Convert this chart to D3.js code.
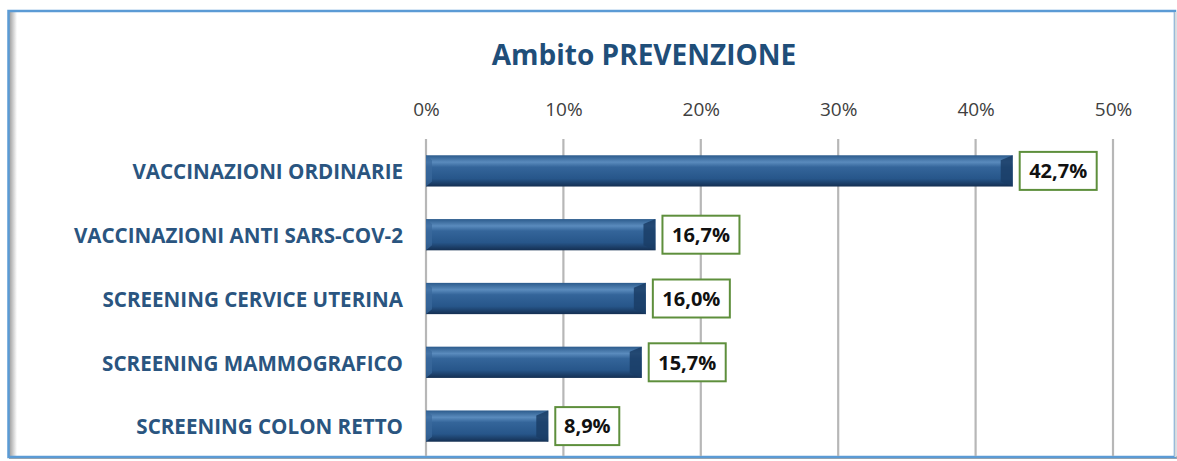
<!DOCTYPE html>
<html>
<head>
<meta charset="utf-8">
<script src="https://cdn.jsdelivr.net/npm/d3@7"></script>
<style>
  html, body { margin: 0; padding: 0; background: #fff; }
  svg { display: block; }
</style>
</head>
<body>
<div id="chart"></div>
<script>
// data
var categories = ["VACCINAZIONI ORDINARIE", "VACCINAZIONI ANTI SARS-COV-2", "SCREENING CERVICE UTERINA", "SCREENING MAMMOGRAFICO", "SCREENING COLON RETTO"];
var values = [42.7, 16.7, 16.0, 15.7, 8.9];
var tickValues = [0, 10, 20, 30, 40, 50];

var W = 1177, H = 461;
var svg = d3.select("#chart").append("svg").attr("width", W).attr("height", H);

var defs = svg.append("defs");
var grad = defs.append("linearGradient").attr("id", "barGrad")
  .attr("x1", 0).attr("y1", 0).attr("x2", 0).attr("y2", 1);
grad.append("stop").attr("offset", "0%").attr("stop-color", "#2c5b8c");
grad.append("stop").attr("offset", "22%").attr("stop-color", "#5a8bbd");
grad.append("stop").attr("offset", "38%").attr("stop-color", "#34659a");
grad.append("stop").attr("offset", "75%").attr("stop-color", "#27568a");
grad.append("stop").attr("offset", "100%").attr("stop-color", "#142f52");

var shadow = defs.append("linearGradient").attr("id", "leftShadow")
  .attr("x1", 0).attr("y1", 0).attr("x2", 1).attr("y2", 0);
shadow.append("stop").attr("offset", "0%").attr("stop-color", "#9a9a9a");
shadow.append("stop").attr("offset", "100%").attr("stop-color", "#ffffff");

// frame
svg.append("rect").attr("x", 9).attr("y", 12).attr("width", 8).attr("height", 446)
  .attr("fill", "url(#leftShadow)");
svg.append("line").attr("x1", 9).attr("x2", 1177).attr("y1", 457.5).attr("y2", 457.5)
  .attr("stroke", "#a6a6a6").attr("stroke-width", 3);
svg.append("rect").attr("x", 8.5).attr("y", 11).attr("width", 1166.5).attr("height", 446)
  .attr("fill", "none").attr("stroke", "#5b9bd5").attr("stroke-width", 2.5);
svg.append("line").attr("x1", 1175.5).attr("x2", 1175.5).attr("y1", 12).attr("y2", 457)
  .attr("stroke", "#d9d9d9").attr("stroke-width", 2);

// scales
var x = d3.scaleLinear().domain([0, 50]).range([426, 1113]);
var y = d3.scaleBand().domain(categories).range([139, 458]).paddingInner(0.51).paddingOuter(0.255);

// gridlines
svg.append("g").selectAll("line").data(tickValues).enter().append("line")
  .attr("x1", function(d) { return x(d); })
  .attr("x2", function(d) { return x(d); })
  .attr("y1", 139).attr("y2", 456)
  .attr("stroke", "#b7b7b7").attr("stroke-width", 2.2);

// top axis
var axis = d3.axisTop(x).tickValues(tickValues).tickSize(0).tickPadding(0)
  .tickFormat(function(d) { return d + "%"; });
var ax = svg.append("g").attr("transform", "translate(0,116)").call(axis);
ax.select(".domain").remove();
ax.selectAll("text").attr("font-family", "'Open Sans', sans-serif")
  .attr("font-size", 19).attr("fill", "#404040");

// title
svg.append("text").attr("x", 644).attr("y", 65).attr("text-anchor", "middle")
  .attr("font-family", "'Open Sans', sans-serif").attr("font-weight", "bold")
  .attr("font-size", 28).attr("fill", "#1f4e79").text("Ambito PREVENZIONE");

// category labels
svg.append("g").selectAll("text").data(categories).enter().append("text")
  .attr("x", 403)
  .attr("y", function(d) { return y(d) + y.bandwidth() / 2 + 1; })
  .attr("dy", "0.35em")
  .attr("text-anchor", "end")
  .attr("font-family", "'Open Sans', sans-serif").attr("font-weight", "bold")
  .attr("font-size", 20.6).attr("fill", "#2a5580")
  .text(function(d) { return d; });

// bars
var bars = svg.append("g").selectAll("g").data(values).enter().append("g");
bars.append("rect")
  .attr("x", x(0))
  .attr("y", function(d, i) { return y(categories[i]); })
  .attr("width", function(d) { return x(d) - x(0); })
  .attr("height", y.bandwidth())
  .attr("fill", "url(#barGrad)");
// bevel on right end
bars.append("path")
  .attr("d", function(d, i) {
    var x1 = x(d), y0 = y(categories[i]), h = y.bandwidth(), b = 12;
    return "M" + x1 + "," + y0 + "L" + (x1 - b) + "," + (y0 + 5) + "L" + (x1 - b) + "," + (y0 + h - 5) + "L" + x1 + "," + (y0 + h) + "Z";
  })
  .attr("fill", "#1a3d66").attr("opacity", 0.85);
// bevel on left end
bars.append("path")
  .attr("d", function(d, i) {
    var x0 = x(0), y0 = y(categories[i]), h = y.bandwidth(), b = 6;
    return "M" + x0 + "," + y0 + "L" + (x0 + b) + "," + (y0 + 5) + "L" + (x0 + b) + "," + (y0 + h - 5) + "L" + x0 + "," + (y0 + h) + "Z";
  })
  .attr("fill", "#3a6a9c").attr("opacity", 0.7);

// value labels
var fmt = function(v) { return v.toFixed(1).replace(".", ",") + "%"; };
var boxW = function(d) { return fmt(d).length > 4 ? 77 : 64; };
var lab = svg.append("g").selectAll("g").data(values).enter().append("g")
  .attr("transform", function(d, i) {
    return "translate(" + (x(d) + 7) + "," + (y(categories[i]) + y.bandwidth() / 2) + ")";
  });
lab.append("rect").attr("x", 0).attr("y", -19).attr("height", 38)
  .attr("width", boxW)
  .attr("fill", "#fff").attr("stroke", "#5e8f3c").attr("stroke-width", 2);
lab.append("text")
  .attr("x", function(d) { return boxW(d) / 2; })
  .attr("dy", "0.36em").attr("text-anchor", "middle")
  .attr("font-family", "'Open Sans', sans-serif").attr("font-weight", "bold")
  .attr("font-size", 20).attr("fill", "#111")
  .text(fmt);
</script>
</body>
</html>
